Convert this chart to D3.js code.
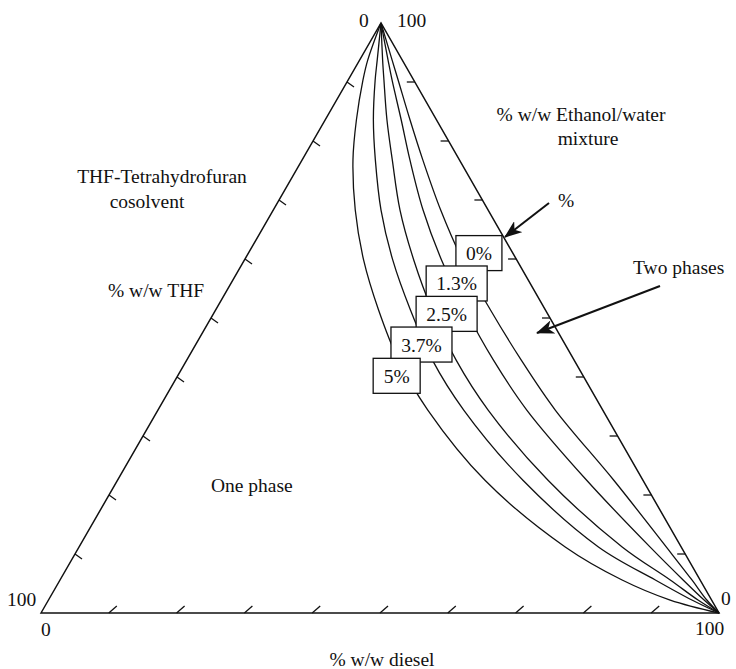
<!DOCTYPE html>
<html>
<head>
<meta charset="utf-8">
<script src="https://cdn.jsdelivr.net/npm/d3@7"></script>
<style>
  body { margin: 0; background: #fff; }
  svg text { font-family: "Liberation Serif", "Times New Roman", serif; font-size: 19.5px; fill: #111; }
</style>
</head>
<body>
<div id="chart-container"></div>
<script>
// ethanol/water levels (% w/w) at which each curve was read
const ethanol = [100, 93.7, 90.3, 83.6, 76.8, 68.3, 59.8, 51.4, 42.9, 34.4, 22.5, 11.2, 5.6, 2.2, 0];
// diesel (% w/w) on each binodal curve, one list per THF cosolvent level
const diesel0  = [0, 4.8, 7.4, 12.5, 17.8, 24.7, 32.2, 40.5, 49.3, 58.6, 73.2, 86.6, 93.2, 97.1, 100];
const diesel13 = [0, 4.2, 6.5, 11.2, 15.9, 22.1, 29.1, 36.8, 45.2, 54.4, 69.2, 84.2, 91.9, 96.7, 100];
const diesel25 = [0, 3.4, 5.3, 9.1, 13.3, 18.7, 25.0, 31.9, 39.7, 48.7, 63.5, 80.1, 90.0, 95.8, 100];
const diesel37 = [0, 2.6, 4.0, 7.1, 10.8, 15.9, 21.9, 28.7, 36.2, 45.1, 59.8, 76.6, 87.8, 94.9, 100];
const diesel5  = [0, 1.2, 2.2, 4.6, 7.5, 12.1, 17.6, 24.0, 31.2, 39.8, 54.2, 71.7, 82.9, 91.7, 100];
const curveLabels = ["0%", "1.3%", "2.5%", "3.7%", "5%"];
// label box centres as [diesel, ethanol]
const labelPos = [[34.0, 61.0], [33.3, 55.85], [34.4, 50.7], [33.3, 45.5], [32.3, 40.2]];
const tickValues = [10, 20, 30, 40, 50, 60, 70, 80, 90];

const W = 736, H = 669;
const svg = d3.select("#chart-container").append("svg")
    .attr("width", W).attr("height", H);

// ternary projection: diesel runs along the base, ethanol/water up to the apex
const x0 = 41;
const yE = d3.scaleLinear().domain([0, 100]).range([613, 23]);
const xD = d3.scaleLinear().domain([0, 100]).range([0, 678]);
const xE = d3.scaleLinear().domain([0, 100]).range([0, 340]);
const proj = (d, e) => [x0 + xD(d) + xE(e), yE(e)];

// triangle
const corners = [proj(0, 0), proj(0, 100), proj(100, 0)];
svg.append("path")
    .attr("d", d3.line()(corners) + "Z")
    .attr("fill", "none").attr("stroke", "#111").attr("stroke-width", 1.5);

// ticks
const tick = svg.append("g").attr("stroke", "#111").attr("stroke-width", 1.3);
tickValues.forEach(v => {
    const b = proj(v, 0);
    tick.append("line").attr("x1", b[0]).attr("y1", b[1]).attr("x2", b[0] + 8).attr("y2", b[1] - 7);
    const l = proj(0, v);
    tick.append("line").attr("x1", l[0]).attr("y1", l[1]).attr("x2", l[0] + 7).attr("y2", l[1] + 5);
    const r = proj(100 - v, v);
    tick.append("line").attr("x1", r[0]).attr("y1", r[1]).attr("x2", r[0] - 8).attr("y2", r[1]);
});

// binodal curves
const series = [diesel0, diesel13, diesel25, diesel37, diesel5];
const line = d3.line().curve(d3.curveCatmullRom.alpha(0.5));
series.forEach(s => {
    svg.append("path")
        .attr("d", line(s.map((d, i) => proj(d, ethanol[i]))))
        .attr("fill", "none").attr("stroke", "#111").attr("stroke-width", 1.3);
});

// curve labels in boxes
const boxW = [46, 61, 61, 61, 47], boxH = 35;
curveLabels.forEach((t, i) => {
    const c = proj(labelPos[i][0], labelPos[i][1]);
    svg.append("rect")
        .attr("x", c[0] - boxW[i] / 2).attr("y", c[1] - boxH / 2)
        .attr("width", boxW[i]).attr("height", boxH)
        .attr("fill", "#fff").attr("stroke", "#111").attr("stroke-width", 1.3);
    svg.append("text").attr("x", c[0]).attr("y", c[1] + 7)
        .attr("text-anchor", "middle").text(t);
});

// arrows
svg.append("defs").append("marker")
    .attr("id", "head").attr("viewBox", "0 0 18 14")
    .attr("refX", 17).attr("refY", 7)
    .attr("markerWidth", 18).attr("markerHeight", 14)
    .attr("markerUnits", "userSpaceOnUse").attr("orient", "auto")
    .append("path").attr("d", "M0,0 L18,7 L0,14 L5,7 Z").attr("fill", "#111");
[[549, 203, 505, 237], [660, 286, 537, 333]].forEach(a => {
    svg.append("line").attr("x1", a[0]).attr("y1", a[1]).attr("x2", a[2]).attr("y2", a[3])
        .attr("stroke", "#111").attr("stroke-width", 2).attr("marker-end", "url(#head)");
});

// texts
const texts = [
    ["0", 359, 27, "start"], ["100", 397, 27, "start"],
    ["100", 7, 606, "start"], ["0", 41, 636, "start"],
    ["0", 721, 605, "start"], ["100", 695, 635, "start"],
    ["% w/w diesel", 382, 666, "middle"],
    ["% w/w Ethanol/water", 581, 121, "middle"], ["mixture", 588, 145, "middle"],
    ["%", 558, 207, "start"],
    ["Two phases", 633, 274, "start"],
    ["THF-Tetrahydrofuran", 162, 183, "middle"], ["cosolvent", 147, 208, "middle"],
    ["% w/w THF", 108, 297, "start"],
    ["One phase", 211, 492, "start"]
];
texts.forEach(t => {
    svg.append("text").attr("x", t[1]).attr("y", t[2])
        .attr("text-anchor", t[3]).text(t[0]);
});
</script>
</body>
</html>
